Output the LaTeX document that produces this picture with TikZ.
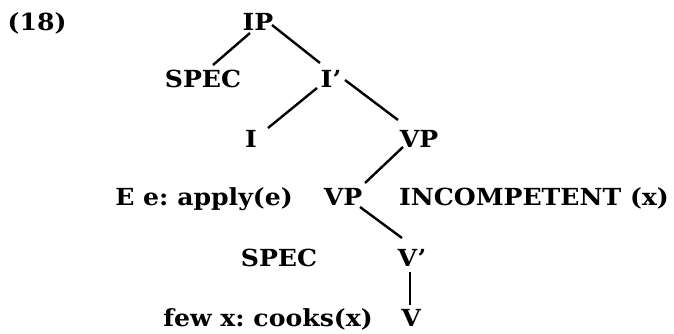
\documentclass[tikz,border=0pt]{standalone}
\usepackage{fontspec}
\setmainfont[FakeStretch=1.07]{DejaVu Serif}
\frenchspacing
\begin{document}
\begin{tikzpicture}[x=1pt,y=-1pt,
  lbl/.style={inner sep=0pt,text height=17pt,text depth=0pt,font=\fontsize{23.5}{26}\selectfont\bfseries},
  edge/.style={line width=2.4pt}]
\useasboundingbox (0,0) rectangle (674,333);
\node[lbl] (num) at (37,21.5) {(18)};
\node[lbl] (IP) at (258,21.5) {IP};
\node[lbl] (SPEC) at (203,78.5) {SPEC};
\node[lbl] (Ibar) at (331,78.5) {I’};
\node[lbl] (I) at (251,138.5) {I};
\node[lbl] (VP) at (419,138.5) {VP};
\node[lbl] (Ee) at (204,196.5) {E e: apply(e)};
\node[lbl] (VPb) at (343,196.5) {VP};
\node[lbl] (INC) at (534,196.5) {INCOMPETENT (x)};
\node[lbl] (SPECb) at (279,258) {SPEC};
\node[lbl] (Vbar) at (412,257.5) {V’};
\node[lbl] (few) at (268,317.5) {few x: cooks(x)};
\node[lbl] (V) at (411,317.5) {V};
\draw[edge] ([shift={(-8,11.5)}]IP.center) -- ([shift={(10,-13.5)}]SPEC.center);
\draw[edge] ([shift={(14,3.5)}]IP.center) -- ([shift={(-11,-15.5)}]Ibar.center);
\draw[edge] ([shift={(-14,9.5)}]Ibar.center) -- ([shift={(17,-10.5)}]I.center);
\draw[edge] ([shift={(14,1.5)}]Ibar.center) -- ([shift={(-21,-18.5)}]VP.center);
\draw[edge] ([shift={(-16,8.5)}]VP.center) -- ([shift={(22,-13.5)}]VPb.center);
\draw[edge] ([shift={(17,10.5)}]VPb.center) -- ([shift={(-10,-19.5)}]Vbar.center);
\draw[edge] ([shift={(-2,14.5)}]Vbar.center) -- ([shift={(-1,-12.5)}]V.center);
\end{tikzpicture}
\end{document}
